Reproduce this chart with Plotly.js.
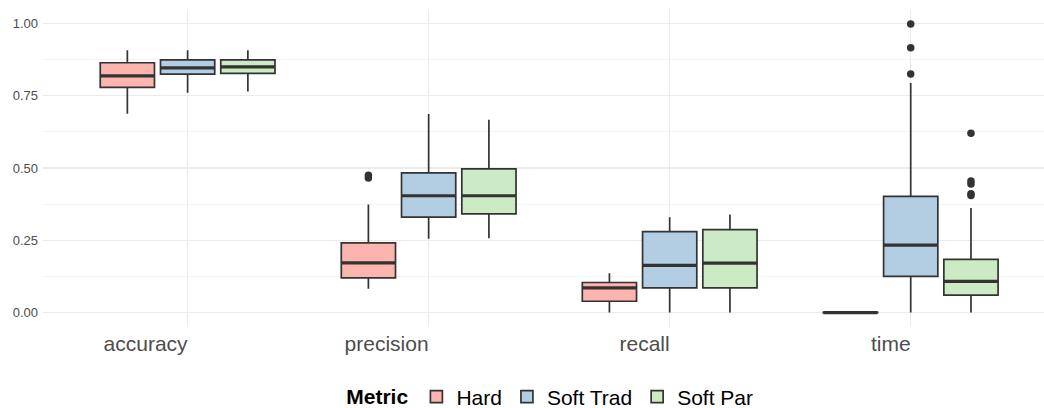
<!DOCTYPE html>
<html>
<head>
<meta charset="utf-8">
<script src="https://cdn.plot.ly/plotly-3.0.1.min.js"></script>
<style>html,body{margin:0;padding:0;background:#fff;}#chart{width:1044px;height:408px;}</style>
</head>
<body>
<div id="chart"></div>
<script>
const categories = ['accuracy', 'precision', 'recall', 'time'];
const groups = ['Hard', 'Soft Trad', 'Soft Par'];
const groupColors = ['#FBB4AE', '#B3CDE3', '#CCEBC5'];

const hardLower   = [0.688, 0.082, 0.000, 0.000];
const hardQ1      = [0.779, 0.120, 0.039, 0.000];
const hardMedian  = [0.819, 0.172, 0.085, 0.000];
const hardQ3      = [0.864, 0.241, 0.104, 0.001];
const hardUpper   = [0.907, 0.374, 0.136, 0.002];
const hardOutliers = [[], [0.475, 0.465], [], []];

const tradLower   = [0.760, 0.255, 0.000, 0.000];
const tradQ1      = [0.825, 0.330, 0.085, 0.125];
const tradMedian  = [0.846, 0.404, 0.163, 0.233];
const tradQ3      = [0.874, 0.483, 0.280, 0.402];
const tradUpper   = [0.907, 0.687, 0.330, 0.794];
const tradOutliers = [[], [], [], [0.998, 0.916, 0.825]];

const parLower    = [0.765, 0.257, 0.000, 0.000];
const parQ1       = [0.827, 0.341, 0.085, 0.060];
const parMedian   = [0.850, 0.404, 0.171, 0.108];
const parQ3       = [0.874, 0.497, 0.287, 0.184];
const parUpper    = [0.907, 0.667, 0.339, 0.362];
const parOutliers = [[], [], [], [0.620, 0.455, 0.445, 0.411, 0.405]];

const yTickVals = [0, 0.25, 0.5, 0.75, 1.0];
const yTickText = ['0.00', '0.25', '0.50', '0.75', '1.00'];

const stats = [
  {lower: hardLower, q1: hardQ1, median: hardMedian, q3: hardQ3, upper: hardUpper, out: hardOutliers},
  {lower: tradLower, q1: tradQ1, median: tradMedian, q3: tradQ3, upper: tradUpper, out: tradOutliers},
  {lower: parLower, q1: parQ1, median: parMedian, q3: parQ3, upper: parUpper, out: parOutliers}
];

const dodge = 0.25, boxW = 0.225, dark = '#333333';
const boxTraces = [], medianTraces = [], outlierTraces = [];
stats.forEach((s, g) => {
  const xs = categories.map((c, i) => (i + 1) + (g - 1) * dodge);
  boxTraces.push({
    type: 'box', name: groups[g], x: xs,
    q1: s.q1, median: s.median, q3: s.q3, lowerfence: s.lower, upperfence: s.upper,
    width: boxW, whiskerwidth: 0, boxpoints: false,
    fillcolor: groupColors[g], line: {color: dark, width: 1.7},
    hoverinfo: 'y'
  });
  const mx = [], my = [];
  xs.forEach((x, i) => { mx.push(x - boxW / 2, x + boxW / 2, null); my.push(s.median[i], s.median[i], null); });
  medianTraces.push({type: 'scatter', mode: 'lines', x: mx, y: my, line: {color: dark, width: 3.2}, showlegend: false, hoverinfo: 'skip'});
  const ox = [], oy = [];
  s.out.forEach((arr, i) => arr.forEach(v => { ox.push(xs[i]); oy.push(v); }));
  outlierTraces.push({type: 'scatter', mode: 'markers', x: ox, y: oy, marker: {color: dark, size: 7.5}, showlegend: false, hoverinfo: 'y'});
});

const layout = {
  width: 1044, height: 408,
  margin: {l: 43, r: 0, t: 9, b: 81, autoexpand: false},
  paper_bgcolor: '#ffffff', plot_bgcolor: '#ffffff',
  font: {family: 'Liberation Sans, Arial, sans-serif', color: '#000'},
  boxmode: 'overlay',
  showlegend: true,
  xaxis: {
    range: [0.4, 4.553], tickvals: [1, 2, 3, 4], ticktext: categories,
    showgrid: true, gridcolor: '#EBEBEB', gridwidth: 1.3, zeroline: false, showline: false,
    ticks: '', ticklabelposition: 'outside left', ticklabelstandoff: 2,
    tickfont: {size: 21, color: '#4D4D4D'}, fixedrange: true
  },
  yaxis: {
    range: [-0.05, 1.05], tickvals: yTickVals, ticktext: yTickText,
    showgrid: true, gridcolor: '#EBEBEB', gridwidth: 1.3, zeroline: false, showline: false,
    minor: {dtick: 0.125, tick0: 0, showgrid: true, gridcolor: '#F0F0F0', gridwidth: 0.8, ticks: ''},
    ticks: '', ticklabelstandoff: 4, tickfont: {size: 13, color: '#4D4D4D'}
  },
  legend: {
    orientation: 'h', xref: 'container', x: 0.528, xanchor: 'center',
    yref: 'container', y: 0.027, yanchor: 'middle',
    font: {size: 21, color: '#000'},
    title: {text: '<b>Metric</b>', side: 'left', font: {size: 21}},
    itemwidth: 30, traceorder: 'normal'
  }
};

Plotly.newPlot('chart', [...boxTraces, ...medianTraces, ...outlierTraces], layout, {displayModeBar: false, staticPlot: true});
</script>
</body>
</html>
